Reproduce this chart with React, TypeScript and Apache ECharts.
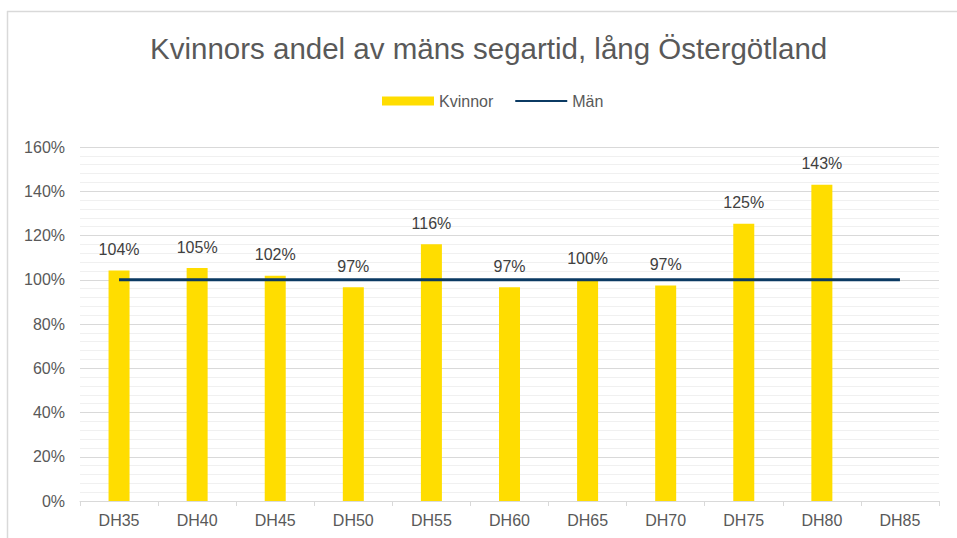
import React, { useEffect, useRef } from "react";
import * as echarts from "echarts";

const categories = ["DH35", "DH40", "DH45", "DH50", "DH55", "DH60", "DH65", "DH70", "DH75", "DH80", "DH85"];
const kvinnor: (number | null)[] = [104.2, 105.3, 101.8, 96.6, 116.1, 96.6, 99.9, 97.4, 125.3, 142.9, null];
const man: number[] = [100, 100, 100, 100, 100, 100, 100, 100, 100, 100, 100];
const yTicks = [0, 20, 40, 60, 80, 100, 120, 140, 160];

const FONT = "'Liberation Sans', Arial, sans-serif";
const TEXT = "#595959";

export default function App() {
  const ref = useRef<HTMLDivElement>(null);
  useEffect(() => {
    if (!ref.current) return;
    const chart = echarts.init(ref.current, null, { renderer: "svg" });
    chart.setOption({
      animation: false,
      backgroundColor: "#ffffff",
      textStyle: { fontFamily: FONT },
      title: {
        text: "Kvinnors andel av mäns segartid, lång Östergötland",
        left: 145,
        top: 28,
        textStyle: { fontFamily: FONT, fontSize: 29.5, fontWeight: "normal", color: TEXT },
      },
      legend: {
        left: 377,
        top: 88,
        itemWidth: 52,
        itemHeight: 9,
        itemGap: 21,
        textStyle: { fontFamily: FONT, fontSize: 16, color: TEXT },
        data: [
          { name: "Kvinnor", icon: "rect" },
          { name: "Män", itemStyle: { opacity: 0 } },
        ],
      },
      grid: { left: 80, right: 18, top: 147, bottom: 37, containLabel: false },
      xAxis: {
        type: "category",
        data: categories,
        axisLine: { lineStyle: { color: "#D9D9D9", width: 1 } },
        axisTick: { show: true, length: 5, lineStyle: { color: "#D9D9D9" } },
        axisLabel: { fontFamily: FONT, fontSize: 16, color: TEXT, margin: 11 },
      },
      yAxis: {
        type: "value",
        min: yTicks[0],
        max: yTicks[yTicks.length - 1],
        interval: 20,
        axisLine: { show: false },
        axisTick: { show: false },
        axisLabel: {
          fontFamily: FONT,
          fontSize: 16,
          color: TEXT,
          margin: 15,
          formatter: (v: number) => `${v}%`,
        },
        splitLine: { show: true, lineStyle: { color: "#D9D9D9", width: 1 } },
        minorTick: { show: false, splitNumber: 5 },
        minorSplitLine: { show: true, lineStyle: { color: "#F0F0F0", width: 1 } },
      },
      graphic: [
        { type: "line", shape: { x1: 7.5, y1: 11, x2: 7.5, y2: 538 }, style: { stroke: "#D9D9D9", lineWidth: 1.5 } },
        { type: "line", shape: { x1: 7, y1: 11.5, x2: 957, y2: 11.5 }, style: { stroke: "#D9D9D9", lineWidth: 1.5 } },
      ],
      series: [
        {
          name: "Kvinnor",
          type: "bar",
          data: kvinnor,
          barWidth: 21,
          itemStyle: { color: "#FFDD00" },
          label: {
            show: true,
            position: "top",
            distance: 13,
            fontFamily: FONT,
            fontSize: 16,
            color: "#404040",
            formatter: (p: any) => `${Math.round(p.value)}%`,
          },
          z: 2,
        },
        {
          name: "Män",
          type: "line",
          data: man,
          symbol: "none",
          lineStyle: { color: "#0B3A63", width: 3 },
          itemStyle: { color: "#0B3A63" },
          z: 3,
        },
      ],
    });
    return () => chart.dispose();
  }, []);
  return (
    <div
      ref={ref}
      style={{ position: "absolute", left: 0, top: 0, width: 957, height: 538 }}
    />
  );
}
